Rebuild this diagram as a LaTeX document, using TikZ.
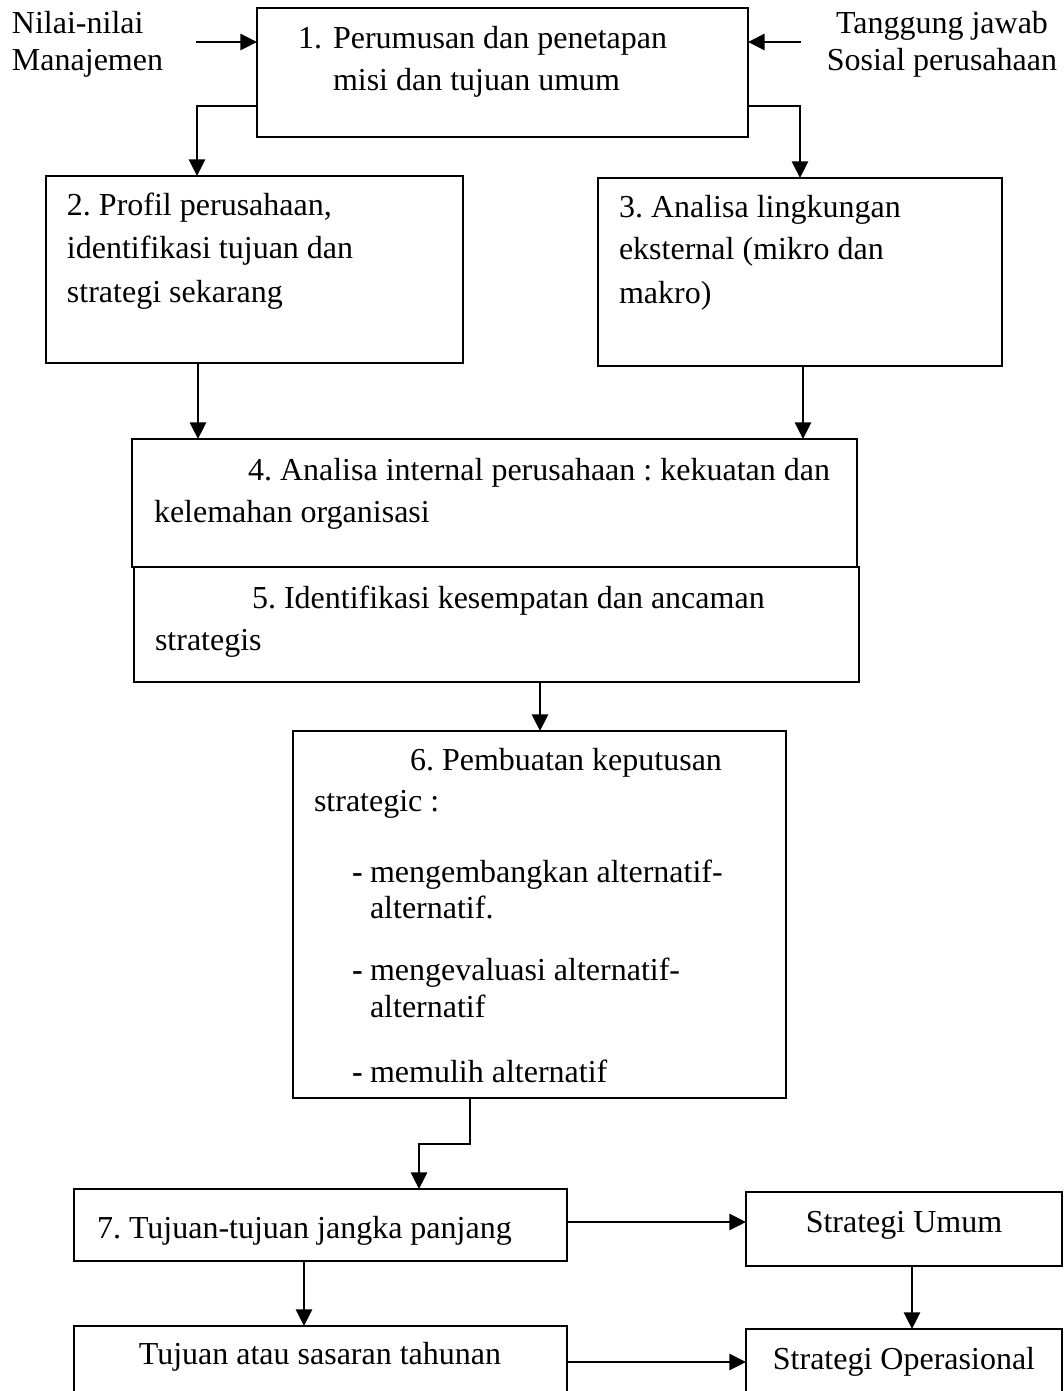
\documentclass[tikz,border=0pt]{standalone}
\usepackage{fontspec}
\setmainfont{Liberation Serif}
\usetikzlibrary{arrows.meta}
\frenchspacing
\newcommand\mkbox[5]{\node[box, minimum width=#4*0.375pt, minimum height=#5*0.375pt, anchor=north west] (#1) at (#2,#3) {};}
\begin{document}
\begin{tikzpicture}[x=0.375pt, y=-0.375pt,
  box/.style={draw=black, line width=0.8pt, inner sep=0pt, outer sep=0pt},
  txt/.style={inner sep=0pt, outer sep=0pt, anchor=base west, font=\fontsize{12pt}{14pt}\selectfont\frenchspacing},
  ctxt/.style={txt, anchor=base},
  arr/.style={line width=0.9pt, -{Triangle[length=6.2pt,width=6pt]}}]
\useasboundingbox (0,0) rectangle (1064,1391);
\clip (0,0) rectangle (1064,1391);
\fill[white] (0,0) rectangle (1064,1391);

% boxes
\mkbox{b1}{257}{8}{491}{129}
\mkbox{b2}{46}{176}{417}{187}
\mkbox{b3}{598}{178}{404}{188}
\mkbox{b4}{132}{439}{725}{128}
\mkbox{b5}{134}{567}{725}{115}
\mkbox{b6}{293}{731}{493}{367}
\mkbox{b7}{74}{1189}{493}{72}
\mkbox{su}{746}{1192}{316}{74}
\mkbox{b8}{74}{1326}{493}{80}
\mkbox{so}{746}{1329}{316}{80}

% outside labels
\node[txt] (nl1) at (12,33) {Nilai-nilai};
\node[txt] (nl2) at (12,70) {Manajemen};
\node[ctxt] (tj1) at (942,33) {Tanggung jawab};
\node[ctxt] (tj2) at (942,70) {Sosial perusahaan};

% box 1
\node[txt] (t1n) at (298,48) {1.};
\node[txt] (t1a) at (333,48) {Perumusan dan penetapan};
\node[txt] (t1b) at (333,90) {misi dan tujuan umum};

% box 2
\node[txt] (t2a) at (67,215) {2. Profil perusahaan,};
\node[txt] (t2b) at (67,258) {identifikasi tujuan dan};
\node[txt] (t2c) at (67,302) {strategi sekarang};

% box 3
\node[txt] (t3a) at (619,217) {3. Analisa lingkungan};
\node[txt] (t3b) at (619,259) {eksternal (mikro dan};
\node[txt] (t3c) at (619,303) {makro)};

% box 4
\node[txt] (t4a) at (248,480) {4. Analisa internal perusahaan : kekuatan dan};
\node[txt] (t4b) at (154,522) {kelemahan organisasi};

% box 5
\node[txt] (t5a) at (252,608) {5. Identifikasi kesempatan dan ancaman};
\node[txt] (t5b) at (155,650) {strategis};

% box 6
\node[txt] (t6a) at (410,770) {6. Pembuatan keputusan};
\node[txt] (t6b) at (314,811) {strategic :};
\node[txt] (d1) at (352,882) {\textbf{-}};
\node[txt] (t6c) at (370,882) {mengembangkan alternatif-};
\node[txt] (t6d) at (370,918) {alternatif.};
\node[txt] (d2) at (352,980) {\textbf{-}};
\node[txt] (t6e) at (370,980) {mengevaluasi alternatif-};
\node[txt] (t6f) at (370,1017) {alternatif};
\node[txt] (d3) at (352,1082) {\textbf{-}};
\node[txt] (t6g) at (370,1082) {memulih alternatif};

% bottom boxes
\node[txt] (t7) at (97,1238) {7. Tujuan-tujuan jangka panjang};
\node[ctxt] (tsu) at (904,1232) {Strategi Umum};
\node[ctxt] (t8) at (320,1364) {Tujuan atau sasaran tahunan};
\node[ctxt] (tso) at (904,1369) {Strategi Operasional};

% connectors
\coordinate (inL) at (196,42);
\coordinate (inR) at (801,42);
\draw[arr] (inL) -- (inL -| b1.west);
\draw[arr] (inR) -- (inR -| b1.east);

\coordinate (c12) at (197,106);
\draw[arr] (c12 -| b1.west) -- (c12) -- (c12 |- b2.north);
\coordinate (c13) at (800,106);
\draw[arr] (c13 -| b1.east) -- (c13) -- (c13 |- b3.north);

\coordinate (c24) at (198,400);
\draw[arr] (c24 |- b2.south) -- (c24 |- b4.north);
\coordinate (c34) at (803,400);
\draw[arr] (c34 |- b3.south) -- (c34 |- b4.north);

\coordinate (c56) at (540,700);
\draw[arr] (c56 |- b5.south) -- (c56 |- b6.north);

\coordinate (c67a) at (470,1144);
\coordinate (c67b) at (419,1144);
\draw[arr] (c67a |- b6.south) -- (c67a) -- (c67b) -- (c67b |- b7.north);

\coordinate (c7su) at (650,1222);
\draw[arr] (c7su -| b7.east) -- (c7su -| su.west);
\coordinate (c78) at (304,1290);
\draw[arr] (c78 |- b7.south) -- (c78 |- b8.north);
\coordinate (cso) at (912,1300);
\draw[arr] (cso |- su.south) -- (cso |- so.north);
\coordinate (c8so) at (650,1362);
\draw[arr] (c8so -| b8.east) -- (c8so -| so.west);
\end{tikzpicture}
\end{document}
